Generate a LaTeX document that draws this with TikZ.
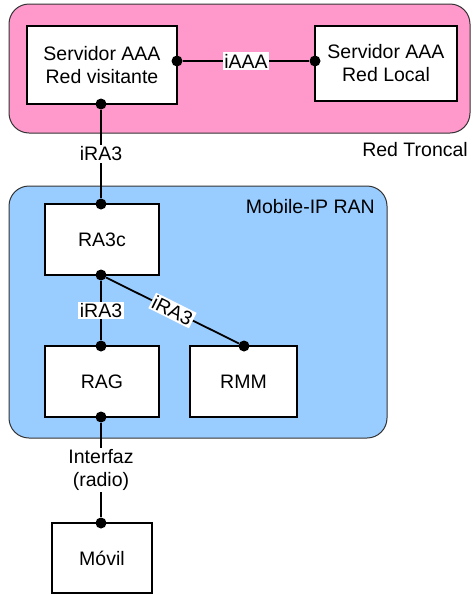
\documentclass[tikz,border=0pt]{standalone}
\usepackage{fontspec}
\setmainfont{Liberation Sans}
\usetikzlibrary{positioning,calc,backgrounds}
\definecolor{troncal}{HTML}{FF99CC}
\definecolor{ranazul}{HTML}{99CCFF}
\definecolor{borde}{HTML}{333333}
\tikzset{
  % regiones
  zona/.style={draw=borde,line width=1pt,rounded corners=20pt},
  zlabel/.style={anchor=east,inner sep=0pt},
  % equipos y enlaces
  equipo/.style={draw=black,fill=white,line width=1.8pt,align=center,inner sep=0pt},
  pto/.style={circle,fill=black,inner sep=0pt,minimum size=11pt},
  enl/.style={draw=black,line width=1.8pt},
  etq/.style={fill=white,inner sep=1.5pt,align=center},
}
\begin{document}
\begin{tikzpicture}[x=1pt,y=-1pt,every node/.append style={font=\fontsize{19.5}{23}\selectfont}]
  \useasboundingbox (0,0) rectangle (473,595);
  % red troncal
  \path[zona,fill=troncal] (9,4) rectangle (470,133);
  \node[zlabel] (ltron) at (468,150) {Red Troncal};
  % mobile-ip ran
  \path[zona,fill=ranazul] (9,186) rectangle (387,438);
  \node[zlabel] (lran) at (375,207) {Mobile-IP RAN};
  \node[equipo,minimum width=150pt,minimum height=78pt] (vis) at (102,65) {Servidor AAA\\Red visitante};
  \node[equipo,minimum width=142pt,minimum height=75pt] (loc) at (386,63.5) {Servidor AAA\\Red Local};
  \node[equipo,minimum width=114pt,minimum height=71pt] (ra3c) at (102,239.5) {RA3c};
  \node[equipo,minimum width=114pt,minimum height=71pt] (rag) at (102,381.5) {RAG};
  \node[equipo,minimum width=107pt,minimum height=71pt] (rmm) at (243.5,381.5) {RMM};
  \node[equipo,minimum width=100pt,minimum height=70pt] (movil) at (102,558) {Móvil};
  % puntos de conexion
  \node[pto] (pvise) at (177,61) {};
  \node[pto] (plocw) at (315,61) {};
  \node[pto] (pviss) at (101,104) {};
  \node[pto] (pra3n) at (101,204) {};
  \node[pto] (pra3s) at (101,275) {};
  \node[pto] (pragn) at (101,346) {};
  \node[pto] (prmmn) at (244,346) {};
  \node[pto] (prags) at (101,417) {};
  \node[pto] (pmovn) at (101,523) {};
  % enlaces
  \draw[enl] (pvise) -- node[etq]{iAAA} (plocw);
  \draw[enl] (pviss) -- node[etq]{iRA3} (pra3n);
  \draw[enl] (pra3s) -- node[etq]{iRA3} (pragn);
  \draw[enl] (pra3s) -- node[etq,sloped]{iRA3} (prmmn);
  \draw[enl] (prags) -- node[etq]{Interfaz\\(radio)} (pmovn);
\end{tikzpicture}
\end{document}
